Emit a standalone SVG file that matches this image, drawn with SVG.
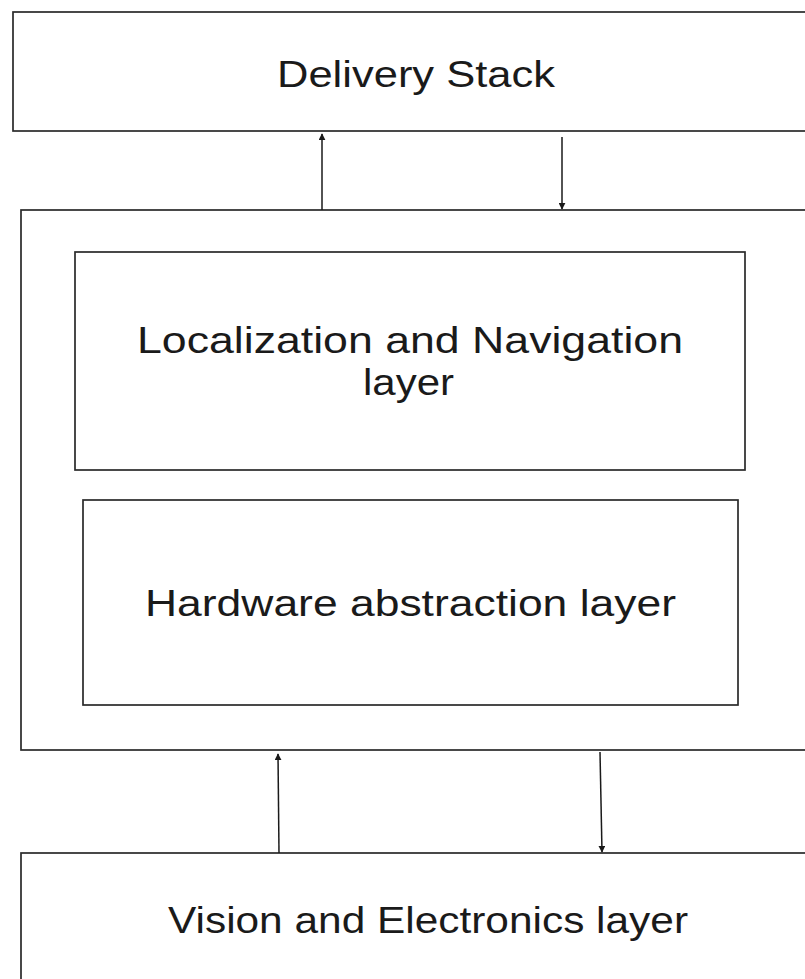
<svg xmlns="http://www.w3.org/2000/svg" width="805" height="979" viewBox="0 0 805 979">
<style>
.box{fill:#fff;stroke:#2a2a2a;stroke-width:1.7}
.lbl{font-family:"Liberation Sans",Arial,sans-serif;font-size:36px;fill:#1a1a1a}
.conn{stroke:#1a1a1a;stroke-width:1.5;fill:none}
</style>
<defs>
<marker id="ah" viewBox="0 0 10 10" refX="9" refY="5" markerWidth="7" markerHeight="7" markerUnits="userSpaceOnUse" orient="auto">
<path d="M0,0 L10,5 L0,10 z" fill="#1a1a1a"/>
</marker>
</defs>
<rect width="805" height="979" fill="#fff"/>
<g id="delivery-stack">
<rect class="box" x="13" y="12" width="800" height="119"/>
<text class="lbl" x="277" y="87" font-size="33" textLength="278" lengthAdjust="spacingAndGlyphs">Delivery Stack</text>
</g>
<g id="container">
<rect class="box" x="21" y="210" width="800" height="540"/>
</g>
<g id="localization">
<rect class="box" x="75" y="252" width="670" height="218"/>
<text class="lbl" x="137" y="353" font-size="37" textLength="546" lengthAdjust="spacingAndGlyphs">Localization and Navigation</text>
<text class="lbl" x="363" y="395" font-size="37" textLength="91" lengthAdjust="spacingAndGlyphs">layer</text>
</g>
<g id="hardware">
<rect class="box" x="83" y="500" width="655" height="205"/>
<text class="lbl" x="145" y="616" textLength="531" lengthAdjust="spacingAndGlyphs">Hardware abstraction layer</text>
</g>
<g id="vision">
<rect class="box" x="21" y="853" width="800" height="140"/>
<text class="lbl" x="168" y="933" textLength="520" lengthAdjust="spacingAndGlyphs">Vision and Electronics layer</text>
</g>
<g id="connectors">
<line class="conn" x1="322" y1="210" x2="322" y2="134" marker-end="url(#ah)"/>
<line class="conn" x1="562" y1="137" x2="562" y2="209" marker-end="url(#ah)"/>
<line class="conn" x1="279" y1="853" x2="278" y2="754" marker-end="url(#ah)"/>
<line class="conn" x1="600" y1="752" x2="602" y2="852" marker-end="url(#ah)"/>
</g>
</svg>
